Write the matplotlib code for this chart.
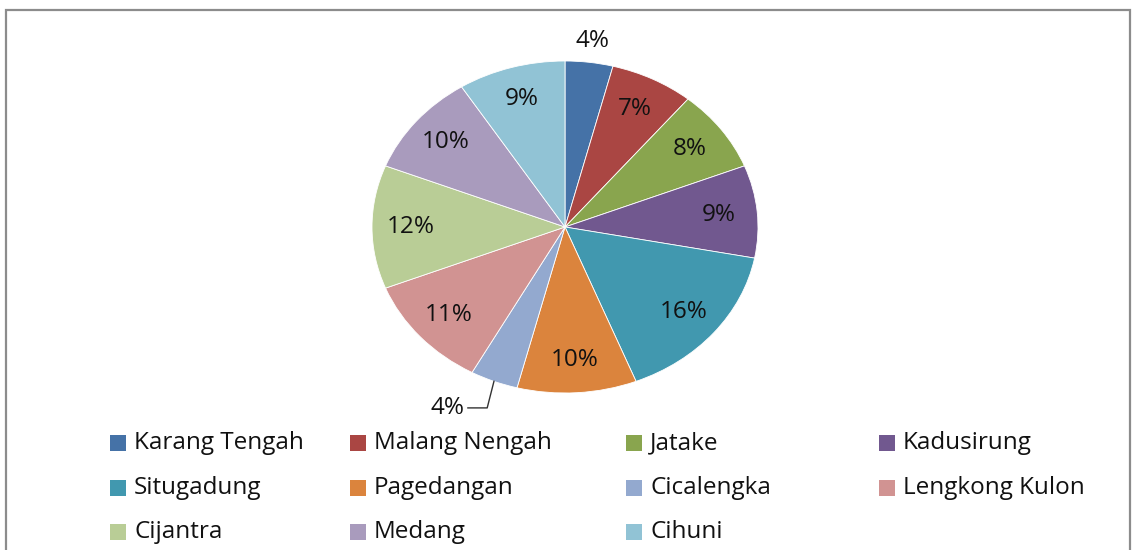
import numpy as np
import matplotlib
matplotlib.use("Agg")
import matplotlib.pyplot as plt
from matplotlib.patches import Rectangle

plt.rcParams['font.family'] = ['Open Sans', 'DejaVu Sans']

names = ["Karang Tengah", "Malang Nengah", "Jatake", "Kadusirung", "Situgadung",
         "Pagedangan", "Cicalengka", "Lengkong Kulon", "Cijantra", "Medang", "Cihuni"]
shares = [4, 7, 8, 9, 16, 10, 4, 11, 12, 10, 9]
colors = ["#4572A7", "#AA4643", "#89A54E", "#71588F", "#4198AF", "#DB843D",
          "#93A9CF", "#D19392", "#B9CD96", "#A99BBD", "#91C3D5"]

W, H = 1132, 550
FS = 17.5
fig = plt.figure(figsize=(W / 100, H / 100), dpi=100)

# chart frame
fig.add_artist(Rectangle((6 / W, -0.05), 1124 / W, (H - 10) / H + 0.05,
                         transform=fig.transFigure, fill=False,
                         edgecolor="#8c8c8c", linewidth=1.6))

# pie axes (stretched horizontally like the original)
cx, cy, rx, ry = 565, 227, 193, 166
ax = fig.add_axes([(cx - rx) / W, (H - cy - ry) / H, 2 * rx / W, 2 * ry / H])
wedges, _ = ax.pie(shares, colors=colors, startangle=90, counterclock=False,
                   wedgeprops=dict(edgecolor="white", linewidth=0.6))
ax.set_aspect("auto")
ax.set_xlim(-1, 1)
ax.set_ylim(-1, 1)

total = sum(shares)
cum = np.cumsum([0] + shares)
for i, v in enumerate(shares):
    mid = np.deg2rad(90 - 360 * (cum[i] + v / 2) / total)
    label = f"{v}%"
    if i == 0:
        ax.text(1.13 * np.cos(mid), 1.13 * np.sin(mid), label, ha="center", va="center",
                fontsize=FS, color="#111111")
    elif i == 6:
        ex, ey = np.cos(mid), np.sin(mid)
        kx, ky = ex - 0.035, ey - 0.16
        ax.plot([ex, kx, kx - 0.1], [ey, ky, ky], color="#333333", lw=1, clip_on=False)
        ax.text(kx - 0.12, ky, label, ha="right", va="center", fontsize=FS, color="#111111")
    else:
        ax.text(0.8 * np.cos(mid), 0.8 * np.sin(mid), label, ha="center", va="center",
                fontsize=FS, color="#111111")

# legend, filled row by row
col_x = [110, 350, 626, 879]
row_y = [443, 488, 532]
for i, (n, c) in enumerate(zip(names, colors)):
    x = col_x[i % 4]
    y = row_y[i // 4]
    fig.add_artist(Rectangle((x / W, (H - y - 8) / H), 16 / W, 16 / H,
                             transform=fig.transFigure, facecolor=c, edgecolor="none"))
    fig.text((x + 24) / W, (H - y) / H, n, ha="left", va="center", fontsize=FS,
             color="#111111")

fig.savefig("out.png", dpi=100)
